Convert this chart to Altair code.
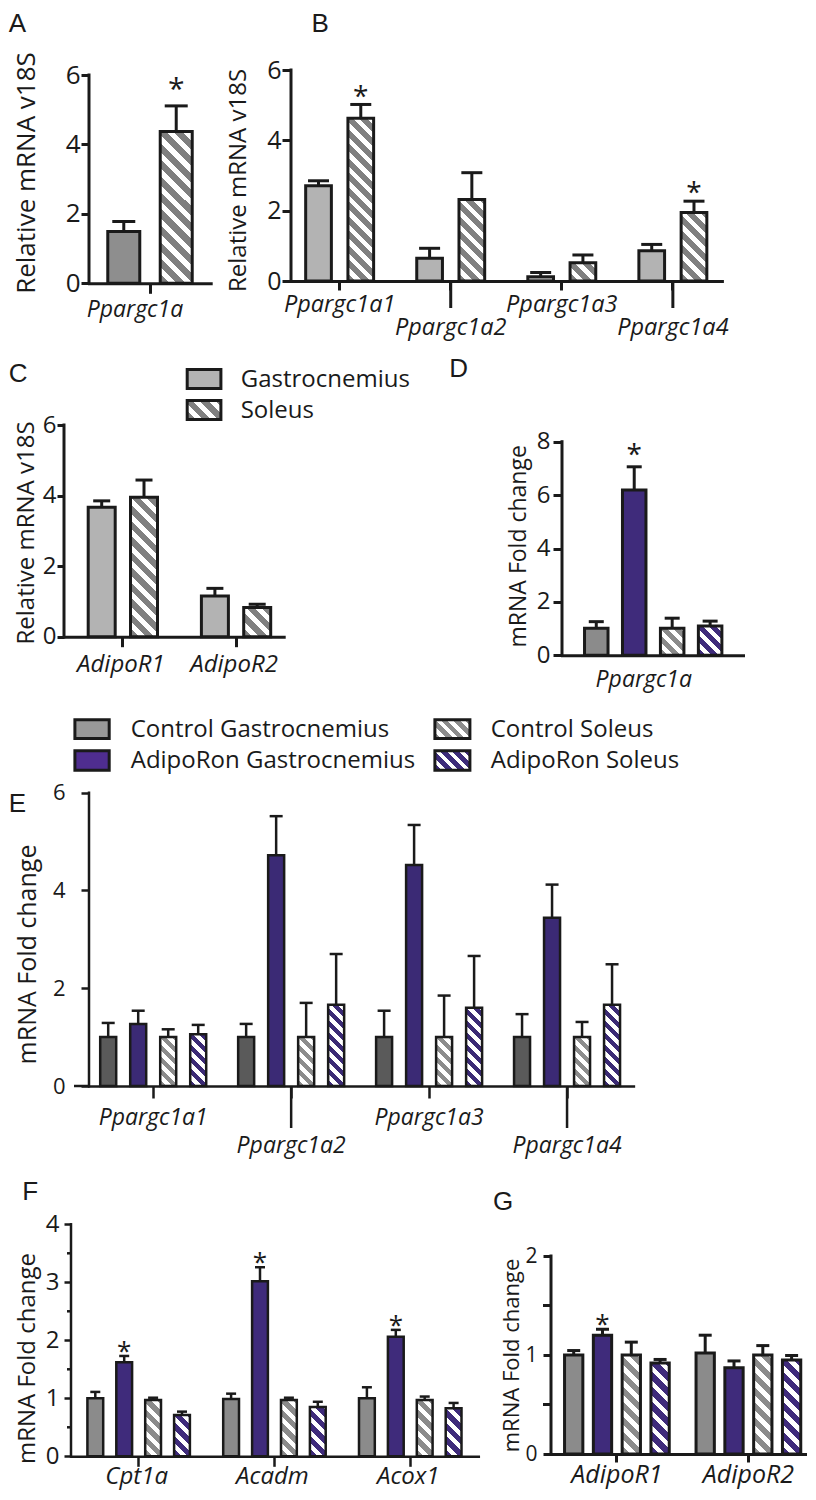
import altair as alt
import pandas as pd

FONT = "Open Sans"
LETTER_FONT = "Liberation Sans"
INK = "#1a1a1a"
WHITE = "#ffffff"

# ---------------- data ----------------
A_genes = ["Ppargc1a"]
A_groups = ["Gastrocnemius", "Soleus"]
A_mean = [1.49, 4.37]
A_sem = [0.29, 0.74]
A_sig = [0, 1]
A_ticks = [0, 2, 4, 6]

B_genes = ["Ppargc1a1", "Ppargc1a2", "Ppargc1a3", "Ppargc1a4"]
B_groups = ["Gastrocnemius", "Soleus"]
B_mean = [2.71, 4.63, 0.65, 2.32, 0.12, 0.52, 0.86, 1.95]
B_sem = [0.14, 0.39, 0.28, 0.76, 0.12, 0.22, 0.18, 0.32]
B_sig = [0, 1, 0, 0, 0, 0, 0, 1]
B_ticks = [0, 2, 4, 6]

C_genes = ["AdipoR1", "AdipoR2"]
C_groups = ["Gastrocnemius", "Soleus"]
C_mean = [3.67, 3.95, 1.15, 0.83]
C_sem = [0.18, 0.49, 0.22, 0.09]
C_sig = [0, 0, 0, 0]
C_ticks = [0, 2, 4, 6]

T_groups = ["Control Gastrocnemius", "AdipoRon Gastrocnemius", "Control Soleus", "AdipoRon Soleus"]

D_genes = ["Ppargc1a"]
D_mean = [1.01, 6.19, 1.01, 1.10]
D_sem = [0.25, 0.87, 0.38, 0.18]
D_sig = [0, 1, 0, 0]
D_ticks = [0, 2, 4, 6, 8]

E_genes = ["Ppargc1a1", "Ppargc1a2", "Ppargc1a3", "Ppargc1a4"]
E_mean = [1.0, 1.27, 1.0, 1.06, 1.0, 4.72, 1.0, 1.66, 1.0, 4.52, 1.0, 1.60, 1.0, 3.44, 1.0, 1.66]
E_sem = [0.29, 0.27, 0.16, 0.19, 0.27, 0.80, 0.70, 1.04, 0.54, 0.82, 0.85, 1.06, 0.47, 0.68, 0.31, 0.83]
E_sig = [0] * 16
E_ticks = [0, 2, 4, 6]

F_genes = ["Cpt1a", "Acadm", "Acox1"]
F_mean = [1.0, 1.62, 0.97, 0.71, 0.99, 3.02, 0.97, 0.85, 1.0, 2.06, 0.97, 0.83]
F_sem = [0.11, 0.11, 0.04, 0.06, 0.09, 0.24, 0.04, 0.09, 0.19, 0.12, 0.06, 0.09]
F_sig = [0, 1, 0, 0, 0, 1, 0, 0, 0, 1, 0, 0]
F_ticks = [0, 1, 2, 3, 4]
F_minor = [0.5, 1.5, 2.5, 3.5]

G_genes = ["AdipoR1", "AdipoR2"]
G_mean = [1.0, 1.20, 1.0, 0.92, 1.02, 0.87, 1.0, 0.95]
G_sem = [0.045, 0.06, 0.13, 0.035, 0.18, 0.07, 0.095, 0.045]
G_sig = [0, 1, 0, 0, 0, 0, 0, 0]
G_ticks = [0, 1, 2]
G_minor = [0.5, 1.5]

TITLE_REL = "Relative mRNA v18S"
TITLE_FOLD = "mRNA Fold change"

# ---------------- helpers ----------------
ONE = pd.DataFrame({"k": [0]})


def band_params(W, n, s, c0, B):
    pi = 1.0 - B / s
    outer = W - s * (n - pi)
    po = max(outer, 0.0) / (2.0 * s)
    left = c0 - B / 2.0
    al = min(max(left / outer, 0.0), 1.0) if outer > 1e-6 else 0.5
    return pi, po, al


def hatch(w, h, c1, period, frac=0.55, c2=WHITE):
    w = max(float(w), 1.0)
    h = max(float(h), 1.0)
    L = (w * w + h * h) / (w + h)
    n = (w + h) / period
    stops = []
    k = 0
    while k / n < 1.0:
        a, b, c = k / n, (k + frac) / n, (k + 1) / n
        stops.append({"offset": round(a, 4), "color": c1})
        stops.append({"offset": round(min(b, 1.0), 4), "color": c1})
        if b < 1.0:
            stops.append({"offset": round(b, 4), "color": c2})
            stops.append({"offset": round(min(c, 1.0), 4), "color": c2})
        k += 1
    return {"gradient": "linear", "x1": 0, "y1": 1,
            "x2": round(w / L, 4), "y2": round(1 - h / L, 4), "stops": stops}


def free_text(x, y, s, fs, font=FONT, **kw):
    return alt.Chart(ONE).mark_text(text=s, font=font, fontSize=fs, color=INK,
                                    align="left", **kw).encode(x=alt.value(x), y=alt.value(y))


def swatch(x1, y1, x2, y2, fill, sw=3):
    return alt.Chart(ONE).mark_rect(fill=fill, stroke=INK, strokeWidth=sw, opacity=1).encode(
        x=alt.value(x1), x2=alt.value(x2), y=alt.value(y1), y2=alt.value(y2))


def make_panel(P):
    genes, groups = P["genes"], P["groups"]
    rows = []
    k = 0
    for g in genes:
        for grp in groups:
            mval, e = P["mean"][k], P["sem"][k]
            rows.append({"gene": g, "grp": grp, "mean": mval,
                         "top": round(mval + e, 4), "sig": P["sig"][k]})
            k += 1
    df = pd.DataFrame(rows)
    W, H, sw = P["W"], P["H"], P["sw"]
    px0, py0, pt = P["px0"], P["py0"], P["pt"]
    Hc = py0 + H - pt                      # chart height: from row top to the x axis
    ymax_ext = P["ymax"] * Hc / H
    n, m = len(genes), len(groups)
    s = P.get("s", W)
    B = m * P["bs"] + 2
    pi, po, al = band_params(W, n, s, P["c0"], B)
    pio = (P["bs"] - P["bw"]) / P["bs"]
    poo = (B / P["bs"] - m + pio) / 2.0

    ax_kw = dict(labels=False, title=None, grid=False, domainColor=INK, domainWidth=sw,
                 domainCap="square", bandPosition=0.5)
    if P["xtick"] > 0:
        ax_kw.update(ticks=True, tickSize=P["xtick"], tickWidth=sw, tickColor=INK)
    else:
        ax_kw.update(ticks=False)
    X = alt.X("gene:N", scale=alt.Scale(domain=genes, paddingInner=pi, paddingOuter=po, align=al),
              axis=alt.Axis(**ax_kw))
    XO = alt.XOffset("grp:N", scale=alt.Scale(domain=groups, paddingInner=pio, paddingOuter=poo))
    yscale = alt.Scale(domain=[0, ymax_ext], nice=False, zero=True)
    yaxis = alt.Axis(values=P["yticks"], format="d", title=P["title"], titleFont=FONT,
                     titleFontSize=P["tfs"], titleFontWeight="normal", titleColor=INK,
                     titleAngle=270, titleAlign="center", titleBaseline="middle",
                     titleX=P["tx"] - px0, titleY=P["ty"] - pt,
                     labelFont=FONT, labelFontSize=P["lfs"], labelColor=INK,
                     labelPadding=P["lpad"], labelFlush=False, labelOverlap=False,
                     tickSize=P["ytick"], tickWidth=sw, tickColor=INK,
                     domain=False, grid=False)

    def Y(field):
        return alt.Y(field + ":Q", scale=yscale, axis=yaxis)

    base = alt.Chart(df)
    layers = []
    # y axis line from 0 to the top tick
    ydf = pd.DataFrame({"v0": [0], "v1": [P["ymax"]]})
    layers.append(alt.Chart(ydf).mark_rule(color=INK, strokeWidth=sw, strokeCap="square").encode(
        x=alt.value(0), y=Y("v0"), y2="v1:Q"))
    # solid bars
    for grp in groups:
        if grp not in P["hatch"]:
            layers.append(base.transform_filter(alt.datum.grp == grp).mark_bar(
                fill=P["colors"][grp], stroke=INK, strokeWidth=sw, opacity=1).encode(
                x=X, xOffset=XO, y=Y("mean")))
    # hatched bars (one diagonal-stripe fill per bar)
    ppu = H / P["ymax"]
    for r in rows:
        if r["grp"] in P["hatch"]:
            grad = hatch(P["bw"], r["mean"] * ppu, P["hatch"][r["grp"]], P["period"])
            layers.append(base.transform_filter(
                (alt.datum.gene == r["gene"]) & (alt.datum.grp == r["grp"])
            ).mark_bar(fill=grad, stroke=INK, strokeWidth=sw, opacity=1).encode(
                x=X, xOffset=XO, y=Y("mean")))
    # error bars (upper only)
    layers.append(base.mark_rule(color=INK, strokeWidth=sw, opacity=1).encode(
        x=X, xOffset=XO, y=Y("mean"), y2="top:Q"))
    layers.append(base.mark_tick(color=INK, thickness=sw, size=P["cap"], opacity=1).encode(
        x=X, xOffset=XO, y=Y("top")))
    if any(P["sig"]):
        fs = P["afs"]
        layers.append(base.transform_filter(alt.datum.sig == 1).mark_text(
            text="*", font=FONT, fontSize=fs, color=INK, baseline="alphabetic", align="center",
            dy=round(0.58 * fs - P["aoff"], 2)).encode(x=X, xOffset=XO, y=Y("top")))
    if "minor" in P:
        mdf = pd.DataFrame({"v": P["minor"]})
        layers.append(alt.Chart(mdf).mark_rule(color=INK, strokeWidth=sw).encode(
            x=alt.value(-P["minorlen"]), x2=alt.value(0), y=Y("v")))
    lab = pd.DataFrame({"gene": genes, "row": P["rows"]})
    for rr, off in enumerate(P["xoff"]):
        layers.append(alt.Chart(lab).transform_filter(alt.datum.row == rr).mark_text(
            font=FONT, fontSize=P["xfs"], fontStyle="italic", color=INK, baseline="alphabetic",
            align="center", dx=P.get("xdx", 0)).encode(x=X, y=alt.value(Hc + off), text="gene:N"))
    if P.get("longtick"):
        layers.append(alt.Chart(lab).transform_filter(alt.datum.row == 1).mark_rule(
            color=INK, strokeWidth=sw).encode(x=X, y=alt.value(Hc), y2=alt.value(Hc + P["longtick"])))
    if P.get("xext"):
        layers.append(alt.Chart(ONE).mark_rule(color=INK, strokeWidth=sw).encode(
            x=alt.value(-P["xext"]), x2=alt.value(0), y=alt.value(Hc)))
    # panel letter
    letter, lx, ly = P["letter"]
    layers.append(free_text(lx - px0, max(ly - 2 - pt, 3), letter, 26, font=LETTER_FONT,
                            baseline="top"))
    # legend
    for (x1, y1, x2, y2, col, hcol, txt, tx, tb) in P.get("legend", []):
        fill = hatch(x2 - x1, y2 - y1, hcol, P["period"]) if hcol else col
        layers.append(swatch(x1 - px0, y1 - pt, x2 - px0, y2 - pt, fill, 3))
        layers.append(free_text(tx - px0, tb - pt, txt, 24, baseline="alphabetic"))
    return alt.layer(*layers).properties(width=W, height=round(Hc, 2))


# ---------------- panel specs (reference pixel geometry) ----------------
GS = {"Gastrocnemius": "#b3b3b3", "Soleus": "#808080"}
TR = {"Control Gastrocnemius": "#8b8b8b", "AdipoRon Gastrocnemius": "#3f2b7b",
      "Control Soleus": "#8b8b8b", "AdipoRon Soleus": "#3f2b7b"}
TR_H = {"Control Soleus": "#8b8b8b", "AdipoRon Soleus": "#3f2b7b"}

ROW_TOP = [8, 342, 698, 1161]
ROW_BOTTOM = [342, 698, 1161, 1480]

PA = dict(genes=A_genes, groups=A_groups, mean=A_mean, sem=A_sem, sig=A_sig, yticks=A_ticks,
          px0=88.3, py0=75, pt=ROW_TOP[0], W=121.7, H=208.3, ymax=6, c0=61.0, bs=52.45, bw=32, sw=3,
          colors={"Gastrocnemius": "#8e8e8e", "Soleus": "#7f7f7f"}, hatch={"Soleus": "#7f7f7f"},
          period=16.5, cap=23, ytick=8, lpad=1, lfs=26, title=TITLE_REL, tfs=26, tx=26, ty=172.5,
          xfs=23, xoff=[33.7], rows=[0], xdx=-15, xtick=10, afs=30, aoff=24, letter=("A", 8, 7))

PB = dict(genes=B_genes, groups=B_groups, mean=B_mean, sem=B_sem, sig=B_sig, yticks=B_ticks,
          px0=289.6, py0=70, pt=ROW_TOP[0], W=430.9, H=211, ymax=6, s=111.07, c0=48.65, bs=42.25,
          bw=25.7, sw=3, colors=GS, hatch={"Soleus": "#808080"}, period=14.5, cap=21, ytick=9,
          lpad=1, lfs=25, title=TITLE_REL, tfs=24, tx=237.3, ty=180, xfs=23.5, xoff=[30.7, 54],
          rows=[0, 1, 0, 1], xtick=9, longtick=27, afs=28, aoff=15, letter=("B", 310, 7))

PC = dict(genes=C_genes, groups=C_groups, mean=C_mean, sem=C_sem, sig=C_sig, yticks=C_ticks,
          px0=63.3, py0=425, pt=ROW_TOP[1], W=219.7, H=211.7, ymax=6, s=113.2, c0=58.85, bs=42.3,
          bw=27, sw=3, colors=GS, hatch={"Soleus": "#808080"}, period=15.5, cap=17, ytick=7,
          lpad=1, lfs=24, title=TITLE_REL, tfs=24, tx=26, ty=532.5, xfs=24, xoff=[35],
          rows=[0, 0], xdx=-2, xtick=10, letter=("C", 8, 363),
          legend=[(186.5, 369.5, 220.2, 388.5, "#b3b3b3", None, C_groups[0], 240, 386.7),
                  (186.5, 400.5, 220.2, 419.5, None, "#808080", C_groups[1], 240, 418.3)])

PD = dict(genes=D_genes, groups=T_groups, mean=D_mean, sem=D_sem, sig=D_sig, yticks=D_ticks,
          px0=560.7, py0=441.7, pt=ROW_TOP[1], W=181, H=213.6, ymax=8, c0=91.2, bs=37.95, bw=23.5,
          sw=3, colors=TR, hatch=TR_H, period=13, cap=15, ytick=9, lpad=3, lfs=24,
          title=TITLE_FOLD, tfs=23, tx=516.7, ty=545.8, xfs=23, xoff=[31.4], rows=[0], xdx=-9.4,
          xtick=0, afs=28, aoff=19, letter=("D", 448, 358))

PE = dict(genes=E_genes, groups=T_groups, mean=E_mean, sem=E_sem, sig=E_sig, yticks=E_ticks,
          px0=88.3, py0=792.7, pt=ROW_TOP[2], W=544.4, H=293.3, ymax=6, s=137.95, c0=64.2, bs=30,
          bw=16, sw=2.5,
          colors={"Control Gastrocnemius": "#5a5a5a", "AdipoRon Gastrocnemius": "#3b2a75",
                  "Control Soleus": "#8c8c8c", "AdipoRon Soleus": "#3b2a75"},
          hatch={"Control Soleus": "#8c8c8c", "AdipoRon Soleus": "#3b2a75"}, period=12, cap=13,
          ytick=8, lpad=16, lfs=22, title=TITLE_FOLD, tfs=25, tx=27, ty=954, xfs=23,
          xoff=[39, 66.7], rows=[0, 1, 0, 1], xtick=12, longtick=42, xext=15, letter=("E", 8, 793),
          legend=[(74.2, 719.8, 108.5, 738.5, "#999999", None, T_groups[0], 130, 737.3),
                  (74.2, 750.8, 108.5, 770.2, "#4f2d8f", None, T_groups[1], 130, 768.3),
                  (434.2, 719.8, 469.2, 738.5, None, "#8c8c8c", T_groups[2], 490, 737.3),
                  (434.2, 750.8, 469.2, 770.2, None, "#3d2b7a", T_groups[3], 490, 768.3)])

PF = dict(genes=F_genes, groups=T_groups, mean=F_mean, sem=F_sem, sig=F_sig, yticks=F_ticks,
          minor=F_minor, minorlen=4, px0=70.7, py0=1224.3, pt=ROW_TOP[3], W=407.3, H=232, ymax=4,
          s=135.8, c0=67.65, bs=28.9, bw=15.8, sw=2.5, colors=TR, hatch=TR_H, period=13.5, cap=10,
          ytick=7, lpad=5, lfs=24, title=TITLE_FOLD, tfs=24, tx=27, ty=1358, xfs=24, xoff=[28],
          rows=[0, 0, 0], xdx=-2, xtick=10, afs=26, aoff=11, letter=("F", 22, 1181))

PG = dict(genes=G_genes, groups=T_groups, mean=G_mean, sem=G_sem, sig=G_sig, yticks=G_ticks,
          minor=G_minor, minorlen=8, px0=550, py0=1256, pt=ROW_TOP[3], W=256, H=198, ymax=2, s=131.5,
          c0=66.35, bs=28.8, bw=18.3, sw=3, colors=TR, hatch=TR_H, period=15, cap=13, ytick=8,
          lpad=6, lfs=21, title=TITLE_FOLD, tfs=22, tx=510, ty=1355, xfs=25, xoff=[29],
          rows=[0, 0], xtick=8, afs=26, aoff=11.6, letter=("G", 492, 1191))


def spacer(w, h):
    w = max(round(w, 2), 1)
    h = max(round(h, 2), 1)
    # invisible diagonal spanning the box, so the box defines the bounds
    return alt.Chart(ONE).mark_rule(opacity=0, strokeWidth=0).encode(
        x=alt.value(0), x2=alt.value(w), y=alt.value(0), y2=alt.value(h)).properties(width=w, height=h)


def row(i, panels):
    items = []
    x = 8.0
    for j, P in enumerate(panels):
        gap = P["px0"] - x
        h = ROW_BOTTOM[i] - ROW_TOP[i] if j == 0 else 1
        items.append(spacer(gap, h))
        items.append(make_panel(P))
        x = P["px0"] + P["W"]
    return alt.hconcat(*items, spacing=0, bounds="flush").resolve_scale(xOffset="independent")


rows_ = [row(0, [PA, PB]), row(1, [PC, PD]), row(2, [PE]), row(3, [PF, PG])]

chart = alt.vconcat(*rows_, spacing=0, bounds="full").resolve_scale(
    xOffset="independent"
).properties(padding=0, background="white").configure(font=FONT).configure_view(strokeWidth=0)

chart.save("out.html", embed_options={"renderer": "svg", "actions": False})
